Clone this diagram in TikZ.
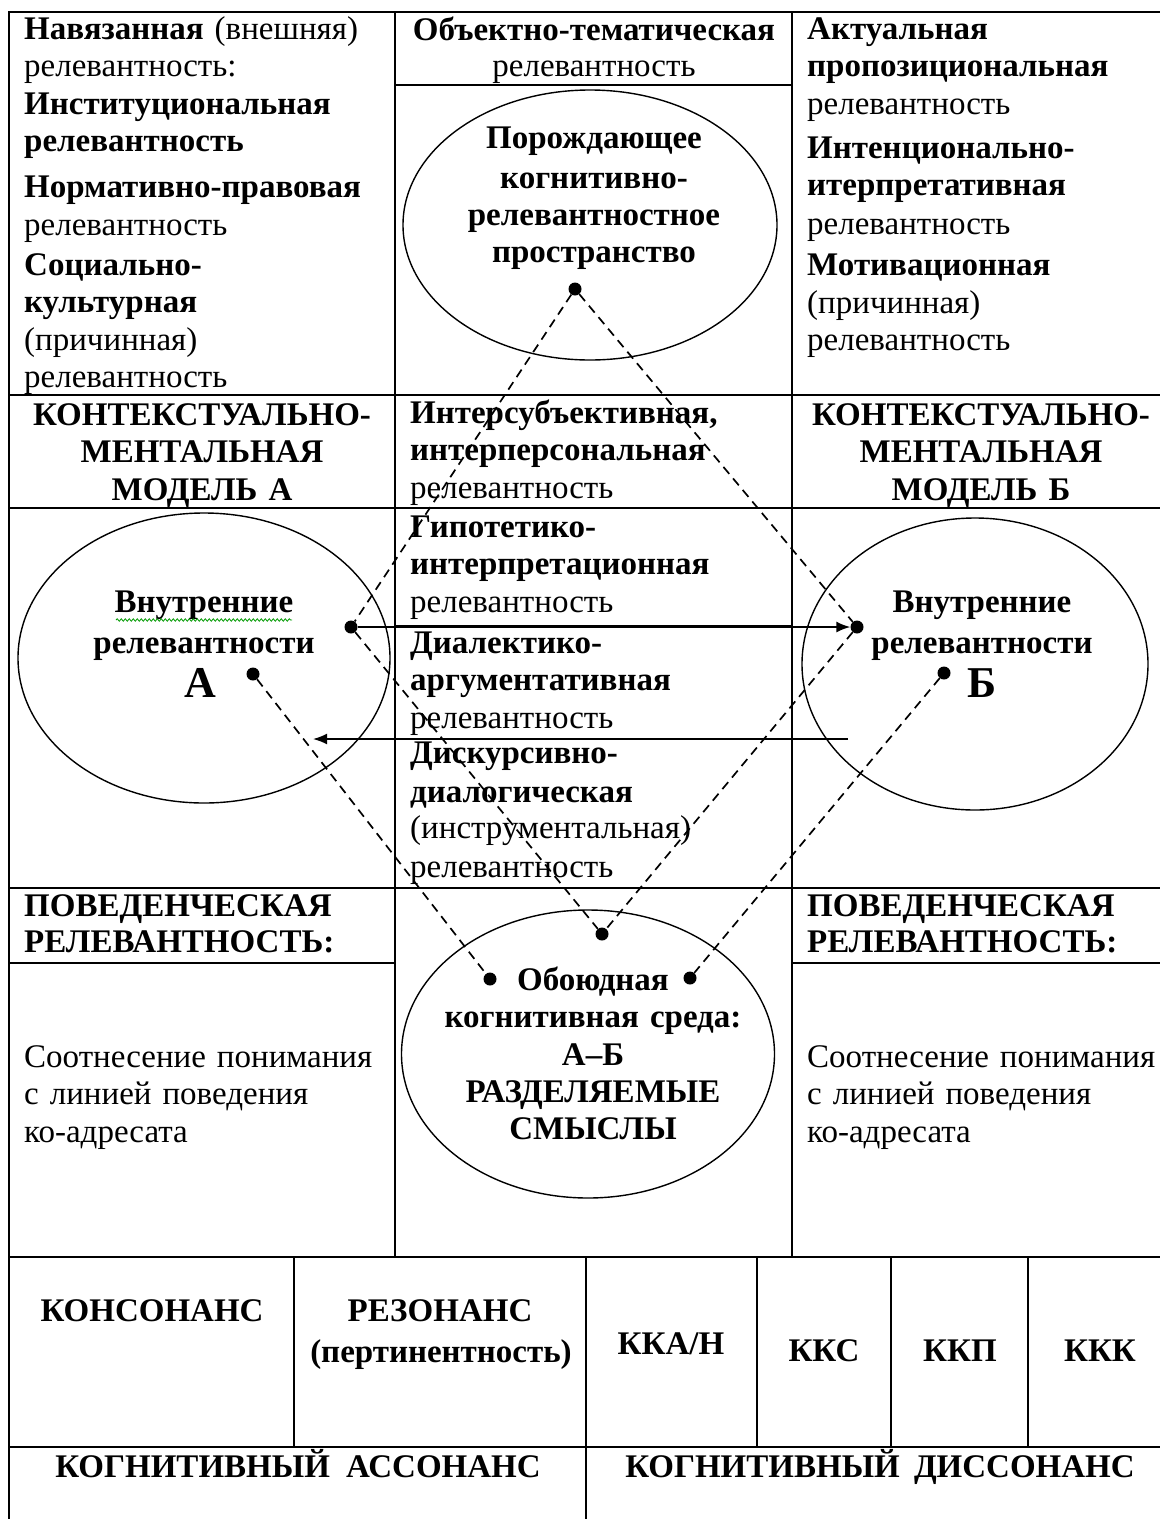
\documentclass[tikz,border=0pt]{standalone}
\usepackage{fontspec}
\setmainfont{Liberation Serif}
\usetikzlibrary{shapes.geometric,arrows.meta,decorations.pathmorphing}
\newcommand\myfs{\fontsize{33}{37.5}\selectfont}
\newcommand\mybig{\fontsize{44}{50}\selectfont}
\begin{document}
\begin{tikzpicture}[x=1pt,y=-1pt,
  grid/.style={line width=1.7pt},
  oval/.style={draw, ellipse, line width=1.4pt, inner sep=0pt},
  dotn/.style={circle, fill=black, inner sep=0pt, minimum size=13pt},
  dashline/.style={dash pattern=on 9pt off 6pt, line width=1.7pt},
  arr/.style={-{Latex[length=14pt,width=11pt]}, line width=1.7pt},
  cellL/.style={inner sep=0pt, anchor=north west, align=left, text width=380pt, font=\myfs},
  cellC/.style={inner sep=0pt, anchor=north, align=center, text width=380pt, font=\myfs},
  lab/.style={inner sep=0pt, anchor=base, font=\myfs\bfseries},
  squig/.style={green!60!black, line width=0.8pt, decorate, decoration={snake, amplitude=1.2pt, segment length=4pt}},
]
\clip (0,0) rectangle (1160,1519);
% ---------- table grid ----------
\draw[grid] (9,1530) -- (9,12) -- (1172,12) -- (1172,1530);
\draw[grid] (395,12) -- (395,1257);
\draw[grid] (792,12) -- (792,1257);
\draw[grid] (395,85) -- (792,85);
\draw[grid] (9,395) -- (1172,395);
\draw[grid] (9,508) -- (1172,508);
\draw[grid] (395,626) -- (792,626);
\draw[grid] (395,739) -- (792,739);
\draw[grid] (9,888) -- (1172,888);
\draw[grid] (9,963) -- (395,963);
\draw[grid] (792,963) -- (1172,963);
\draw[grid] (9,1257) -- (1172,1257);
\draw[grid] (9,1447) -- (1172,1447);
\draw[grid] (294,1257) -- (294,1447);
\draw[grid] (586,1257) -- (586,1530);
\draw[grid] (757,1257) -- (757,1447);
\draw[grid] (891,1257) -- (891,1447);
\draw[grid] (1028,1257) -- (1028,1447);

% ---------- ellipses ----------
\node[oval, minimum width=374pt, minimum height=270pt] (eT) at (590,225) {};
\node[oval, minimum width=372pt, minimum height=290pt] (eA) at (204,658) {};
\node[oval, minimum width=346pt, minimum height=292pt] (eB) at (975,664) {};
\node[oval, minimum width=373pt, minimum height=288pt] (eM) at (588,1054) {};

% ---------- top row ----------
\node[cellL] (tL) at (24,12.75) {\strut\textbf{Навязанная} (внешняя)\\
релевантность:\\
\textbf{Институциональная}\\
\textbf{релевантность}\\[8.5pt]
\textbf{Нормативно-правовая}\\
релевантность\\[2.5pt]
\textbf{Социально-}\\
\textbf{культурная}\\
(причинная)\\
релевантность};

\node[cellC] (tM) at (594,13.75) {\strut\textbf{Объектно-тематическая}\\[-1.5pt]
релевантность};

\node[cellC, font=\myfs\bfseries] (tE) at (594,121.75) {\strut Порождающее\\[2.5pt]
когнитивно-\\
релевантностное\\[-1pt]
пространство};

\node[cellL] (tR) at (807,12.75) {\strut\textbf{Актуальная}\\
\textbf{пропозициональная}\\
релевантность\\[6.5pt]
\textbf{Интенционально-}\\
\textbf{итерпретативная}\\[1.5pt]
релевантность\\[3.5pt]
\textbf{Мотивационная}\\
(причинная)\\
релевантность};

% ---------- model headers ----------
\node[cellC, font=\myfs\bfseries] (hA) at (202,398.75) {\strut КОНТЕКСТУАЛЬНО-\\
МЕНТАЛЬНАЯ\\
МОДЕЛЬ А};
\node[cellC, font=\myfs\bfseries] (hB) at (981,398.75) {\strut КОНТЕКСТУАЛЬНО-\\
МЕНТАЛЬНАЯ\\
МОДЕЛЬ Б};

% ---------- middle column cells ----------
\node[cellL] (m1) at (410,396.75) {\strut\textbf{Интерсубъективная,}\\
\textbf{интерперсональная}\\
релевантность};
\node[cellL] (m2) at (410,510.75) {\strut\textbf{Гипотетико-}\\
\textbf{интерпретационная}\\
релевантность};
\node[cellL] (m3) at (410,626.75) {\strut\textbf{Диалектико-}\\
\textbf{аргументативная}\\
релевантность};
\node[cellL] (m4) at (410,736.75) {\strut\textbf{Дискурсивно-}\\[1.5pt]
\textbf{диалогическая}\\[-1.5pt]
(инструментальная)\\[1.5pt]
релевантность};

% ---------- inner relevances ----------
\node[cellC, font=\myfs\bfseries] (iA) at (204,585.75) {\strut Внутренние\\[3.5pt]
релевантности};
\node[lab, font=\mybig\bfseries] (lA) at (200,697) {А};
\draw[squig] (116,620) -- (292,620);
\node[cellC, font=\myfs\bfseries] (iB) at (982,585.75) {\strut Внутренние\\[3.5pt]
релевантности};
\node[lab, font=\mybig\bfseries] (lB) at (982,697) {Б};

% ---------- behavioural ----------
\node[cellL, font=\myfs\bfseries] (bL) at (24,889.75) {\strut ПОВЕДЕНЧЕСКАЯ\\[-1.5pt]
РЕЛЕВАНТНОСТЬ:};
\node[cellL, font=\myfs\bfseries] (bR) at (807,889.75) {\strut ПОВЕДЕНЧЕСКАЯ\\[-1.5pt]
РЕЛЕВАНТНОСТЬ:};
\node[cellL] (sL) at (24,1040.75) {\strut Соотнесение понимания\\
с линией поведения\\
ко-адресата};
\node[cellL] (sR) at (807,1040.75) {\strut Соотнесение понимания\\
с линией поведения\\
ко-адресата};

% ---------- shared environment ----------
\node[cellC, font=\myfs\bfseries] (eMt) at (593,963.75) {\strut Обоюдная\\
когнитивная среда:\\
А–Б\\
РАЗДЕЛЯЕМЫЕ\\[-1pt]
СМЫСЛЫ};

% ---------- bottom table ----------
\node[lab] (k1) at (152,1321) {КОНСОНАНС};
\node[lab] (k2) at (440,1321) {РЕЗОНАНС};
\node[lab] (k2b) at (441,1362) {(пертинентность)};
\node[lab] (k3) at (671,1354) {ККА/Н};
\node[lab] (k4) at (824,1361) {ККС};
\node[lab] (k5) at (960,1361) {ККП};
\node[lab] (k6) at (1100,1361) {ККК};
\node[lab] (k7) at (298,1477) {КОГНИТИВНЫЙ\hspace{8pt} АССОНАНС};
\node[lab] (k8) at (880,1477) {КОГНИТИВНЫЙ\hspace{6pt} ДИССОНАНС};

% ---------- dots ----------
\node[dotn] (pT) at (575,289) {};
\node[dotn] (pA1) at (351,627) {};
\node[dotn] (pA2) at (253,674) {};
\node[dotn] (pB1) at (857,627) {};
\node[dotn] (pB2) at (944,673) {};
\node[dotn] (pM) at (602,934) {};
\node[dotn] (pL) at (490,979) {};
\node[dotn] (pR) at (690,978) {};

% ---------- connectors ----------
\draw[dashline] (pT) -- (pA1);
\draw[dashline] (pT) -- (pB1);
\draw[dashline] (pA1) -- (pM);
\draw[dashline] (pB1) -- (pM);
\draw[dashline] (pA2) -- (pL);
\draw[dashline] (pB2) -- (pR);
\draw[arr] (pA1) -- (pB1);
\coordinate (arS) at (848,739);
\coordinate (arE) at (313,739);
\draw[arr] (arS) -- (arE);
\end{tikzpicture}
\end{document}
